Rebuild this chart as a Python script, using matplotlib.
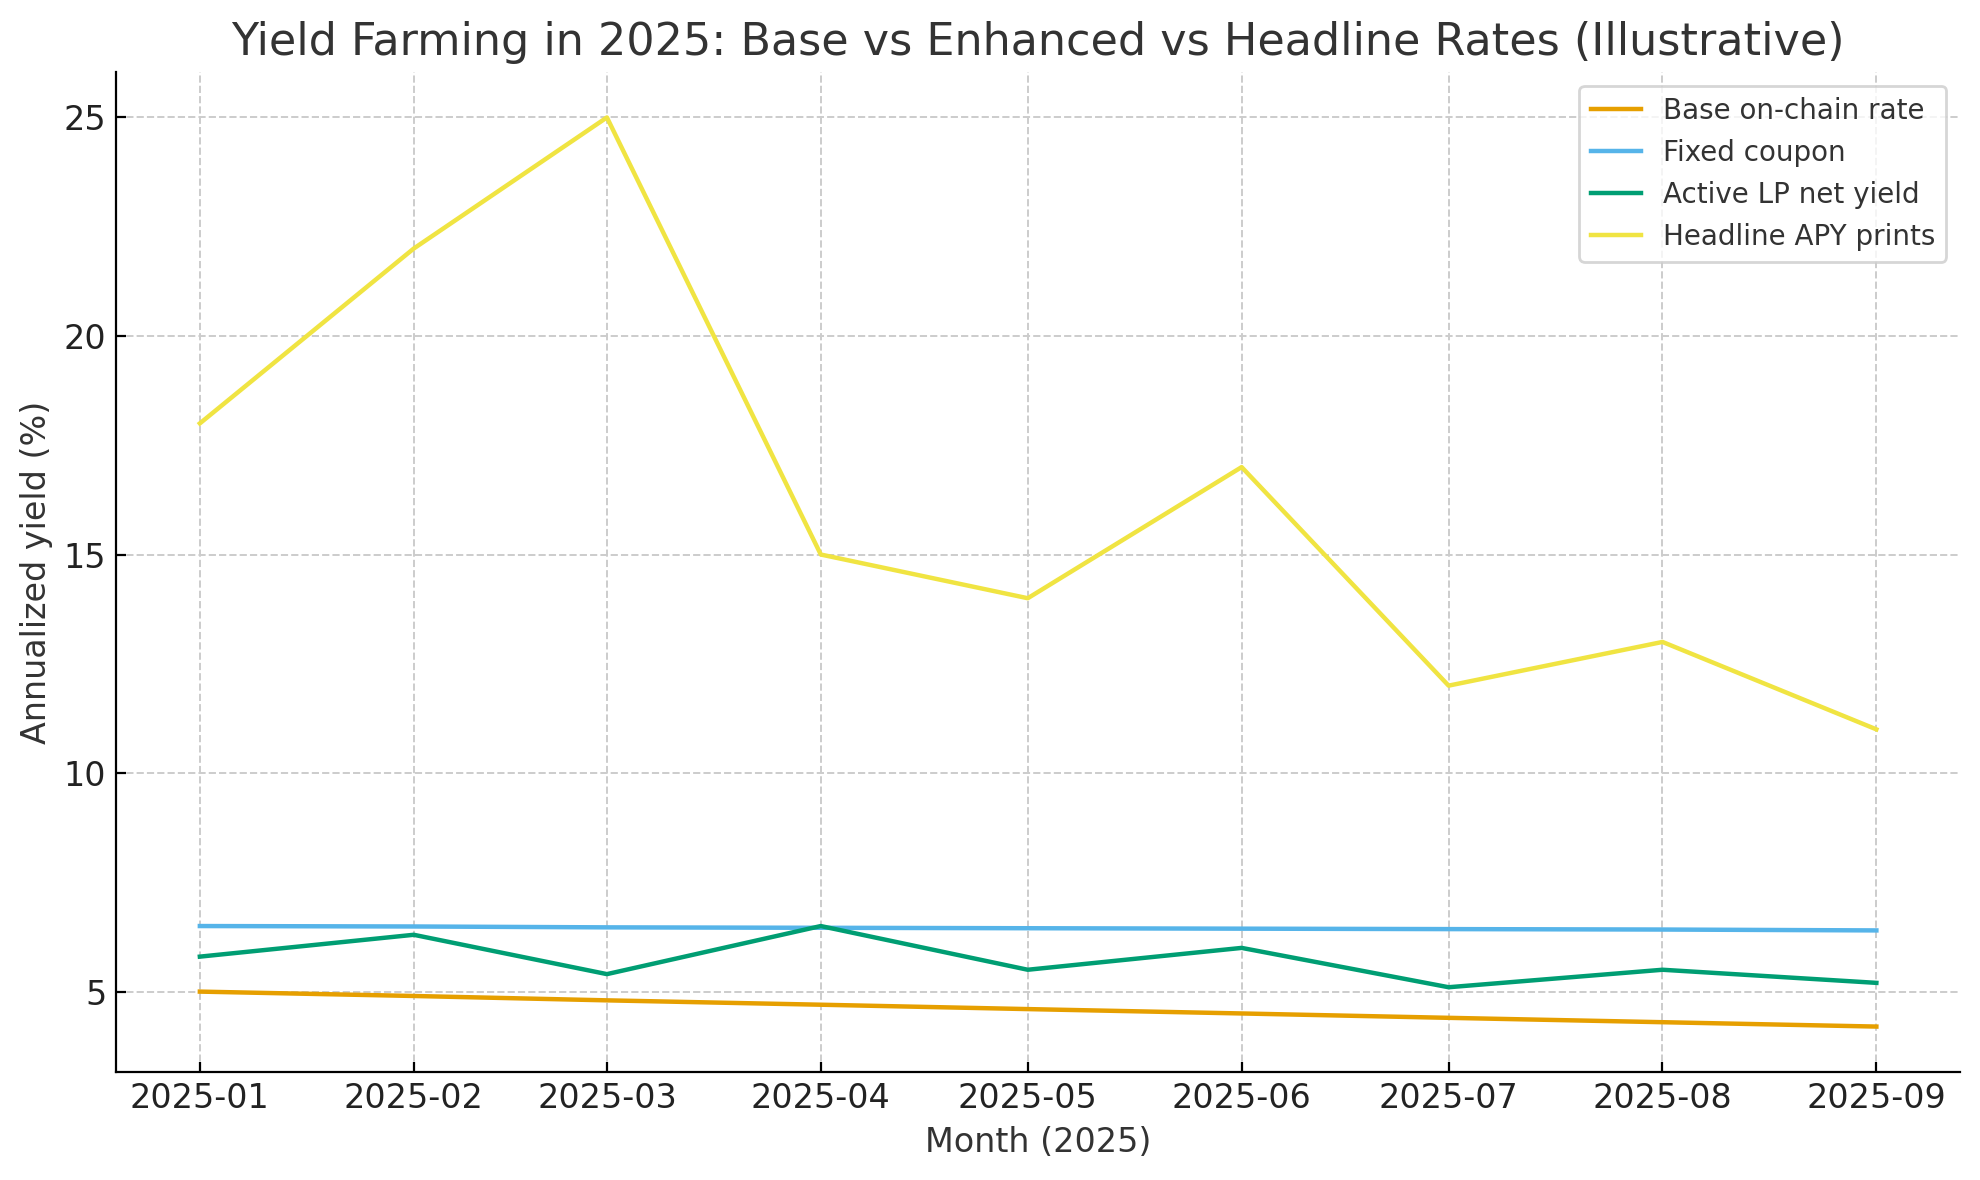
import matplotlib
matplotlib.use("Agg")
import matplotlib.pyplot as plt
import matplotlib.dates as mdates
import numpy as np
import pandas as pd

# monthly series (illustrative values)
months = pd.date_range("2025-01-01", periods=9, freq="MS")
base_rate = [5.0, 4.9, 4.8, 4.7, 4.6, 4.5, 4.4, 4.3, 4.2]
fixed_coupon = [6.50, 6.49, 6.47, 6.46, 6.45, 6.44, 6.43, 6.42, 6.40]
active_lp = [5.8, 6.3, 5.4, 6.5, 5.5, 6.0, 5.1, 5.5, 5.2]
headline_apy = [18, 22, 25, 15, 14, 17, 12, 13, 11]

plt.rcParams['font.family'] = ['DejaVu Sans']
text_col = '#333333'

fig, ax = plt.subplots(figsize=(9.9, 5.9), dpi=200)
fig.subplots_adjust(left=0.0586, right=0.990, top=0.939, bottom=0.0915)

ax.plot(months, base_rate, lw=1.6, color='#E69F00', label='Base on-chain rate')
ax.plot(months, fixed_coupon, lw=1.6, color='#56B4E9', label='Fixed coupon')
ax.plot(months, active_lp, lw=1.6, color='#009E73', label='Active LP net yield')
ax.plot(months, headline_apy, lw=1.6, color='#F0E442', label='Headline APY prints')

ax.set_title('Yield Farming in 2025: Base vs Enhanced vs Headline Rates (Illustrative)',
             fontsize=16, color=text_col)
ax.set_xlabel('Month (2025)', fontsize=12, color=text_col, labelpad=4)
ax.set_ylabel('Annualized yield (%)', fontsize=12, color=text_col, labelpad=4)

ax.set_xticks(months)
ax.xaxis.set_major_formatter(mdates.DateFormatter('%Y-%m'))
ax.set_yticks([5, 10, 15, 20, 25])
ax.tick_params(labelsize=12, labelcolor='#222222', direction='in')

ax.grid(True, linestyle='--', color='#cccccc', linewidth=0.7)
ax.spines['top'].set_visible(False)
ax.spines['right'].set_visible(False)

leg = ax.legend(loc='upper right', fontsize=10, frameon=True, handlelength=1.8)
for t in leg.get_texts():
    t.set_color(text_col)

plt.savefig('out.png')
